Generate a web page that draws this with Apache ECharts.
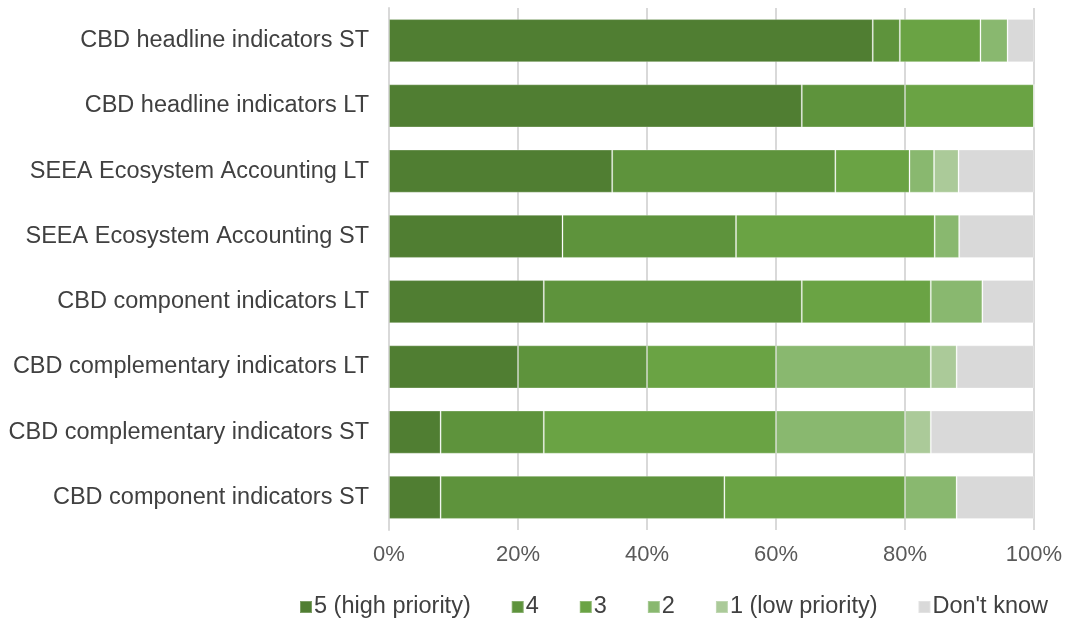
<!DOCTYPE html>
<html><head><meta charset="utf-8">
<script src="https://cdn.jsdelivr.net/npm/echarts@6/dist/echarts.min.js"></script>
<style>html,body{margin:0;padding:0;background:#fff}#c{width:1070px;height:619px}</style>
</head><body><div id="c"></div>
<script>
const categories = [
  "CBD headline indicators ST",
  "CBD headline indicators LT",
  "SEEA Ecosystem Accounting LT",
  "SEEA Ecosystem Accounting ST",
  "CBD component indicators LT",
  "CBD complementary indicators LT",
  "CBD complementary indicators ST",
  "CBD component indicators ST"
];
const seriesNames = ["5 (high priority)", "4", "3", "2", "1 (low priority)", "Don't know"];
const p5 = [75.0, 64.0, 34.6, 26.9, 24, 20, 8, 8];
const p4 = [4.2, 16.0, 34.6, 26.9, 40, 20, 16, 44];
const p3 = [12.5, 20.0, 11.5, 30.8, 20, 20, 36, 28];
const p2 = [4.2, 0, 3.8, 3.8, 8, 24, 20, 8];
const p1 = [0, 0, 3.8, 0, 0, 4, 4, 0];
const dk = [4.1, 0, 11.7, 11.6, 8, 12, 16, 12];
const xTicks = [0, 20, 40, 60, 80, 100];

const colors = ["#507E32", "#5E933C", "#6AA344", "#89B86F", "#ABCA99", "#D9D9D9"];
const values = [p5, p4, p3, p2, p1, dk];

const chart = echarts.init(document.getElementById('c'));
chart.setOption({
  animation: false,
  textStyle: { fontFamily: 'Liberation Sans, Arial, sans-serif' },
  grid: { left: 389, right: 36, top: 8, height: 522 },
  xAxis: {
    type: 'value', min: 0, max: 100, interval: 20,
    axisLabel: { formatter: v => v + '%', fontSize: 22, color: '#595959', margin: 14 },
    splitLine: { lineStyle: { color: '#D9D9D9', width: 2 } },
    axisLine: { show: false }, axisTick: { show: false }
  },
  yAxis: {
    type: 'category', data: categories, inverse: true,
    axisLabel: { fontSize: 23.5, color: '#404040', margin: 20 },
    axisLine: { show: true, lineStyle: { color: '#D9D9D9', width: 2 } },
    axisTick: { show: false }
  },
  legend: {
    top: 590, left: 294, icon: 'rect', itemWidth: 12, itemHeight: 12, itemGap: 40,
    textStyle: { fontSize: 23.5, color: '#404040', padding: [0, 0, 0, -3] },
    data: seriesNames
  },
  series: seriesNames.map((n, i) => ({
    name: n, type: 'bar', stack: 'total', barWidth: '66%',
    data: values[i],
    itemStyle: { color: colors[i], borderColor: 'rgba(255,255,255,0.25)', borderWidth: 1 },
    emphasis: { disabled: true }
  }))
});
</script></body></html>
